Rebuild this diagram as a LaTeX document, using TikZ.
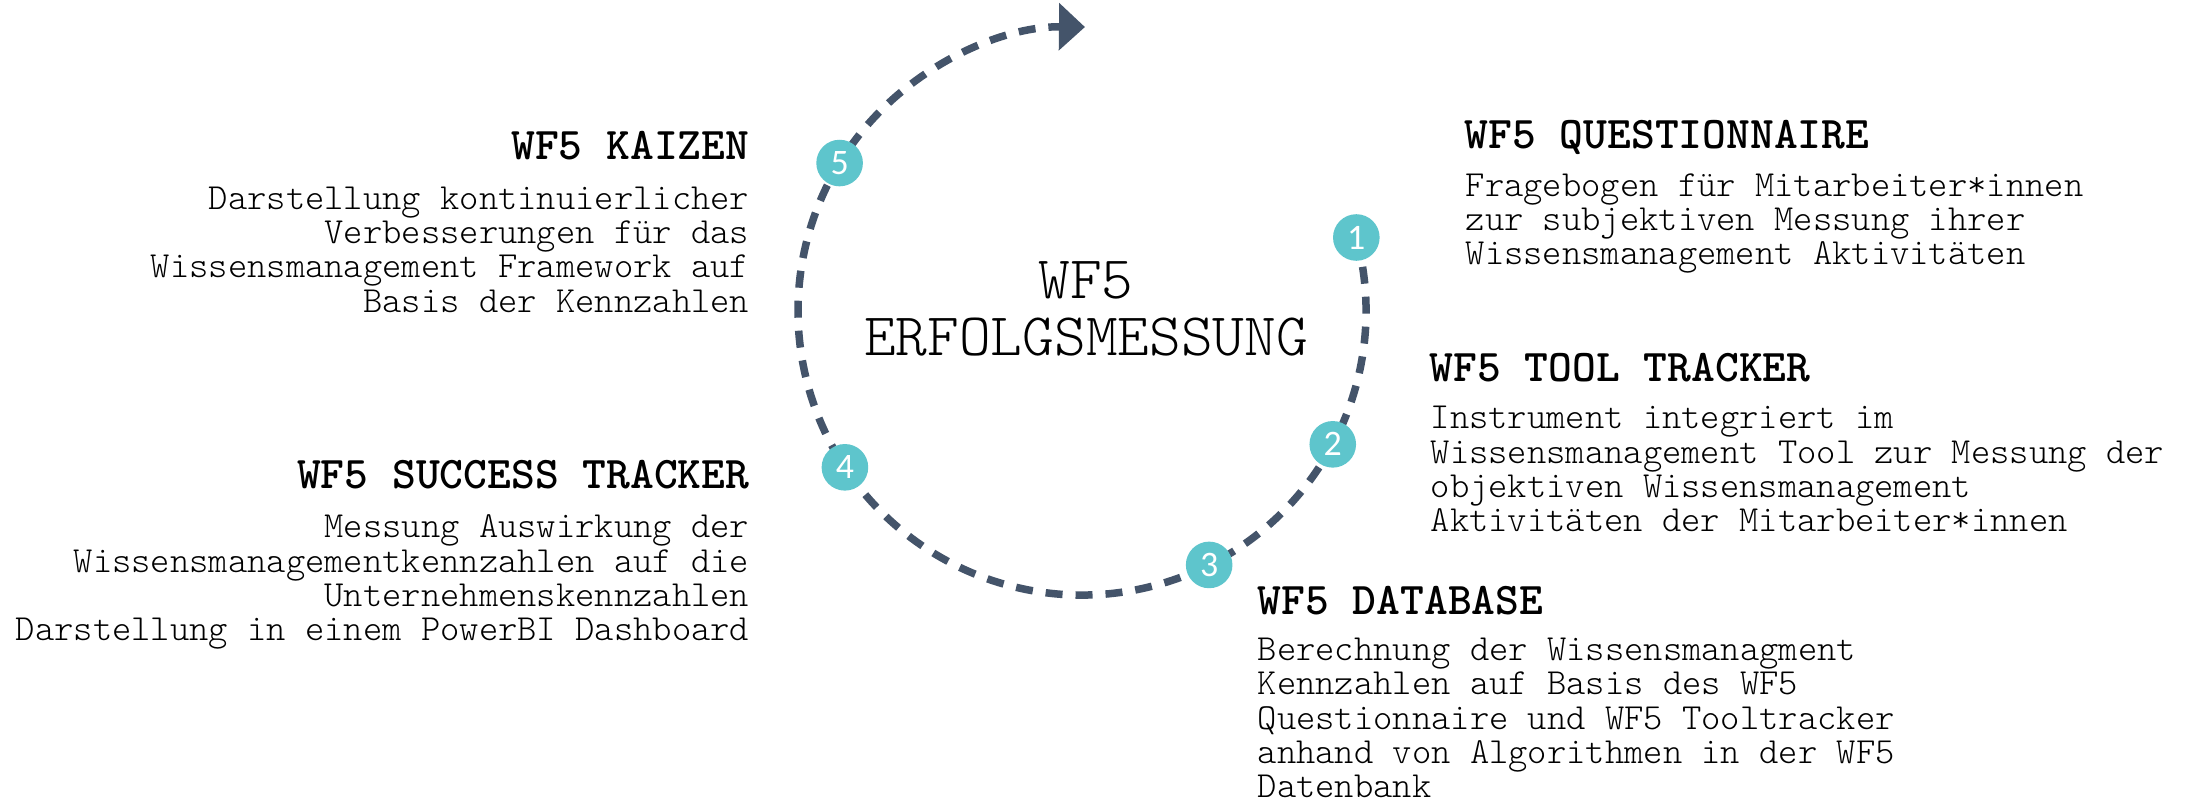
\documentclass[tikz,border=0pt]{standalone}
\usepackage{fontspec}
\setmonofont{lmmonolt10-regular.otf}[BoldFont=lmmonolt10-bold.otf]
\newfontfamily\badgefont{Carlito}
\usetikzlibrary{arrows.meta,calc}
\definecolor{cycleline}{HTML}{44546A}
\definecolor{badgeteal}{HTML}{5EC5CC}
\begin{document}
\begin{tikzpicture}[x=0.1mm,y=-0.1mm,
  badge/.style={circle, fill=badgeteal, minimum size=4.66mm, inner sep=0pt, text=white,
    font=\badgefont\fontsize{10.2}{12}\selectfont},
  heading/.style={inner sep=0pt, font=\ttfamily\bfseries\fontsize{12.9}{14}\selectfont},
  bodytext/.style={inner sep=0pt, font=\ttfamily\fontsize{10.46}{9.73}\selectfont},
  cycleline/.style={draw=cycleline, line width=0.75mm, dash pattern=on 1.7mm off 1.3mm}
]
\useasboundingbox[fill=white] (0,0) rectangle (2188,802);
\coordinate (c) at (1082,311);
\coordinate (p1) at ($(c)+(-15:284)$);
\draw[cycleline, -{Triangle[length=2.6mm,width=4.6mm]}] (p1) arc[start angle=-15, end angle=270.6, radius=284];

\node[badge] (b1) at ($(c)+(-15:284)$) {1};
\node[badge] (b2) at ($(c)+(28:284)$) {2};
\node[badge] (b3) at ($(c)+(63.4:284)$) {3};
\node[badge] (b4) at ($(c)+(146.6:284)$) {4};
\node[badge] (b5) at ($(c)+(-148.6:284)$) {5};

\node[inner sep=0pt, anchor=north, align=center, font=\ttfamily\fontsize{17.18}{16.3}\selectfont] (title) at (1086,257.9) {\strut WF5\\ERFOLGSMESSUNG};

\node[heading, anchor=base east] (kzh) at (750,160) {WF5 KAIZEN};
\node[bodytext, anchor=north east, align=right] (kzb) at (750,184.8) {\strut Darstellung kontinuierlicher\\Verbesserungen für das\\Wissensmanagement Framework auf\\Basis der Kennzahlen};

\node[heading, anchor=base east] (sth) at (750,488.5) {WF5 SUCCESS TRACKER};
\node[bodytext, anchor=north east, align=right] (stb) at (750,513.3) {\strut Messung Auswirkung der\\Wissensmanagementkennzahlen auf die\\Unternehmenskennzahlen\\Darstellung in einem PowerBI Dashboard};

\node[heading, anchor=base west] (qh) at (1464,148.5) {WF5 QUESTIONNAIRE};
\node[bodytext, anchor=north west, align=left] (qb) at (1465,171.8) {\strut Fragebogen für Mitarbeiter*innen\\zur subjektiven Messung ihrer\\Wissensmanagement Aktivitäten};

\node[heading, anchor=base west] (th) at (1429,381.5) {WF5 TOOL TRACKER};
\node[bodytext, anchor=north west, align=left] (tb) at (1430,404.3) {\strut Instrument integriert im\\Wissensmanagement Tool zur Messung der\\objektiven Wissensmanagement\\Aktivitäten der Mitarbeiter*innen};

\node[heading, anchor=base west] (dh) at (1257,614) {WF5 DATABASE};
\node[bodytext, anchor=north west, align=left] (db) at (1257,636.1) {\strut Berechnung der Wissensmanagment\\Kennzahlen auf Basis des WF5\\Questionnaire und WF5 Tooltracker\\anhand von Algorithmen in der WF5\\Datenbank};
\end{tikzpicture}
\end{document}
